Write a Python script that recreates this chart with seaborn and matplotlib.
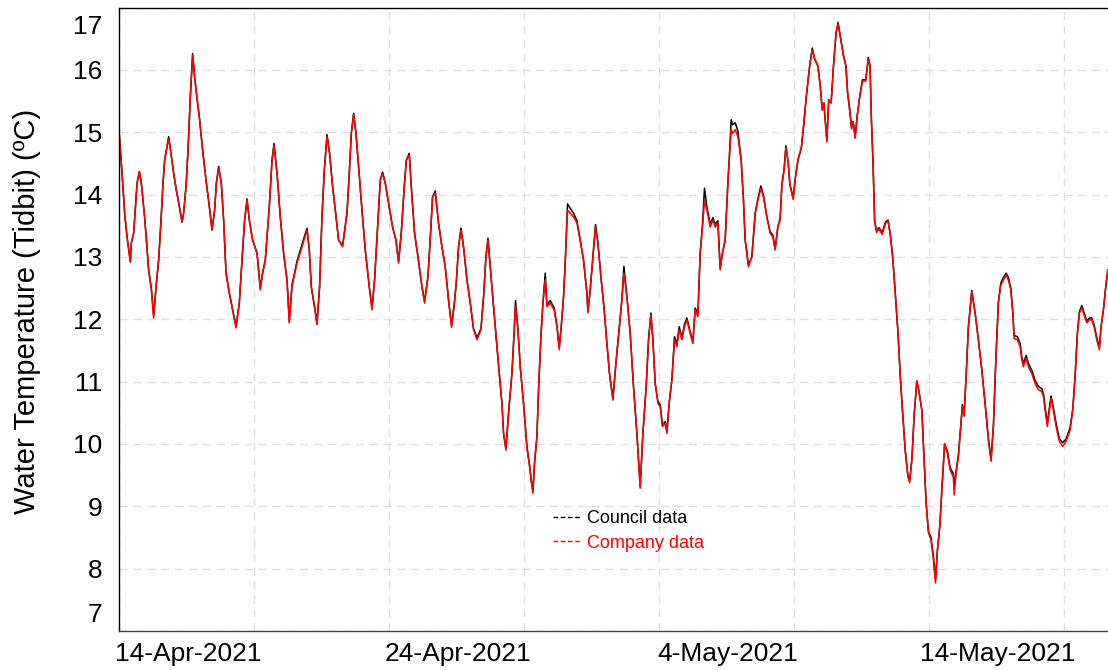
import pandas as pd
import seaborn as sns
import matplotlib.pyplot as plt
import matplotlib.dates as mdates
from matplotlib.lines import Line2D
from matplotlib.transforms import ScaledTranslation

sns.set_theme(style='white')
plt.rcParams['font.family'] = ['Liberation Sans', 'DejaVu Sans']

# days since 2021-04-11 00:00
days = [0.463, 0.563, 0.659, 0.748, 0.870, 0.907, 0.993, 1.119, 1.204, 1.278, 1.400, 1.548, 1.648, 1.733,
        1.822, 1.919, 2.007, 2.081, 2.141, 2.230, 2.289, 2.378, 2.474, 2.574, 2.685, 2.785, 2.844, 2.933,
        3.007, 3.093, 3.178, 3.252, 3.341, 3.437, 3.548, 3.674, 3.796, 3.896, 3.993, 4.056, 4.141, 4.241,
        4.326, 4.415, 4.537, 4.659, 4.785, 4.907, 5.007, 5.104, 5.193, 5.278, 5.400, 5.563, 5.685, 5.770,
        5.870, 6.019, 6.119, 6.193, 6.304, 6.426, 6.548, 6.674, 6.759, 6.859, 7.044, 7.230, 7.415, 7.500,
        7.574, 7.696, 7.785, 7.881, 7.970, 8.056, 8.156, 8.252, 8.363, 8.463, 8.585, 8.733, 8.896, 8.981,
        9.056, 9.141, 9.230, 9.326, 9.452, 9.574, 9.722, 9.822, 9.919, 10.030, 10.130, 10.215, 10.315,
        10.437, 10.585, 10.711, 10.807, 10.907, 11.019, 11.093, 11.204, 11.278, 11.400, 11.526, 11.674,
        11.770, 11.896, 11.993, 12.067, 12.167, 12.289, 12.415, 12.537, 12.659, 12.770, 12.870, 12.944,
        13.030, 13.119, 13.215, 13.341, 13.463, 13.585, 13.711, 13.859, 13.956, 14.044, 14.119, 14.204,
        14.326, 14.452, 14.548, 14.637, 14.696, 14.785, 14.881, 15.007, 15.093, 15.141, 15.230, 15.315,
        15.437, 15.563, 15.648, 15.722, 15.785, 15.844, 15.933, 15.993, 16.081, 16.156, 16.241, 16.304,
        16.426, 16.574, 16.674, 16.759, 16.833, 16.919, 16.981, 17.067, 17.167, 17.289, 17.415, 17.537,
        17.659, 17.785, 17.822, 17.907, 18.007, 18.104, 18.193, 18.304, 18.426, 18.526, 18.622, 18.748,
        18.859, 18.970, 19.081, 19.156, 19.267, 19.389, 19.511, 19.637, 19.759, 19.859, 19.981, 20.067,
        20.156, 20.230, 20.315, 20.415, 20.500, 20.585, 20.685, 20.748, 20.844, 20.933, 21.030, 21.119,
        21.204, 21.304, 21.400, 21.489, 21.611, 21.711, 21.796, 21.896, 21.981, 22.067, 22.141, 22.230,
        22.352, 22.452, 22.537, 22.637, 22.722, 22.807, 22.907, 23.007, 23.056, 23.130, 23.178, 23.278,
        23.378, 23.500, 23.585, 23.648, 23.770, 23.896, 24.019, 24.119, 24.230, 24.326, 24.452, 24.574,
        24.674, 24.759, 24.859, 24.944, 25.007, 25.093, 25.156, 25.241, 25.304, 25.426, 25.511, 25.611,
        25.730, 25.815, 25.915, 26.037, 26.133, 26.219, 26.341, 26.426, 26.500, 26.563, 26.674, 26.744,
        26.833, 26.919, 27.015, 27.089, 27.174, 27.285, 27.381, 27.441, 27.504, 27.589, 27.648, 27.722,
        27.807, 27.896, 27.993, 28.115, 28.211, 28.274, 28.322, 28.385, 28.444, 28.519, 28.604, 28.726,
        28.848, 28.944, 29.033, 29.119, 29.215, 29.311, 29.396, 29.485, 29.581, 29.678, 29.741, 29.826,
        29.911, 30.007, 30.093, 30.193, 30.278, 30.352, 30.437, 30.533, 30.619, 30.700, 30.767, 30.863,
        30.926, 31.037, 31.141, 31.241, 31.363, 31.389, 31.463, 31.548, 31.637, 31.696, 31.759, 31.833,
        31.919, 32.044, 32.167, 32.289, 32.415, 32.537, 32.659, 32.759, 32.844, 32.944, 33.030, 33.119,
        33.215, 33.315, 33.400, 33.489, 33.563, 33.611, 33.733, 33.833, 33.896, 33.956, 34.056, 34.141,
        34.267, 34.389, 34.511, 34.637, 34.696, 34.759, 34.844, 34.919, 34.981, 35.067, 35.167, 35.289,
        35.415, 35.537, 35.685, 35.785, 35.870, 35.956, 36.030, 36.119, 36.204, 36.304, 36.400, 36.489,
        36.574, 36.674, 36.770, 36.833, 36.919, 37.007, 37.081]

company = [14.95, 14.34, 13.70, 13.32, 12.92, 13.22, 13.38, 14.18, 14.37, 14.18, 13.64, 12.79, 12.47, 12.02,
           12.52, 12.95, 13.59, 14.18, 14.55, 14.77, 14.90, 14.66, 14.34, 14.07, 13.81, 13.56, 13.70, 14.13,
           14.71, 15.57, 16.24, 15.89, 15.54, 15.20, 14.71, 14.23, 13.81, 13.43, 13.75, 14.18, 14.42, 14.18,
           13.59, 12.74, 12.42, 12.15, 11.86, 12.26, 12.95, 13.59, 13.91, 13.59, 13.27, 13.06, 12.47, 12.74,
           12.95, 13.81, 14.55, 14.79, 14.34, 13.64, 13.06, 12.63, 11.94, 12.52, 12.90, 13.16, 13.43, 13.11,
           12.52, 12.18, 11.91, 12.52, 13.64, 14.39, 14.93, 14.66, 14.13, 13.75, 13.27, 13.16, 13.70, 14.34,
           14.98, 15.28, 14.98, 14.45, 13.75, 13.11, 12.52, 12.15, 12.63, 13.48, 14.23, 14.34, 14.18,
           13.86, 13.48, 13.27, 12.90, 13.38, 14.13, 14.55, 14.63, 14.13, 13.38, 13.00, 12.52,
           12.26, 12.68, 13.38, 13.96, 14.02, 13.54, 13.16, 12.84, 12.31, 11.87, 12.22, 12.58,
           13.16, 13.43, 13.16, 12.63, 12.26, 11.83, 11.67, 11.83, 12.36, 13.00, 13.27, 12.84,
           12.20, 11.56, 11.08, 10.65, 10.17, 9.90, 10.49, 11.13, 11.83, 12.22, 11.83, 11.24,
           10.65, 9.95, 9.69, 9.42, 9.21, 9.69, 10.12, 10.87, 11.72, 12.26, 12.63, 12.20,
           12.26, 12.15, 11.88, 11.51, 11.88, 12.36, 12.90, 13.75, 13.70, 13.64, 13.54, 13.27,
           12.95, 12.42, 12.10, 12.47, 13.00, 13.48, 13.22, 12.68, 12.15, 11.61, 11.13, 10.70,
           11.29, 11.80, 12.31, 12.74, 12.36, 11.77, 10.92, 10.17, 9.29, 10.17, 10.92, 11.67,
           12.07, 11.67, 10.97, 10.65, 10.60, 10.28, 10.33, 10.17, 10.70, 11.03, 11.67, 11.56,
           11.83, 11.67, 11.88, 11.99, 11.77, 11.61, 12.15, 12.04, 13.06, 13.48, 13.90, 13.75,
           13.48, 13.59, 13.48, 13.54, 12.79, 13.06, 13.27, 14.18, 14.55, 15.05, 14.98, 15.04,
           14.93, 14.55, 13.91, 13.27, 12.84, 13.00, 13.70, 13.91, 14.10, 13.96, 13.64, 13.38,
           13.32, 13.11, 13.48, 13.60, 14.15, 14.40, 14.75, 14.52, 14.16, 13.92, 14.28, 14.57,
           14.75, 15.11, 15.58, 16.06, 16.33, 16.18, 16.06, 15.76, 15.35, 15.47, 14.84, 15.52,
           15.47, 16.06, 16.59, 16.74, 16.53, 16.24, 16.06, 15.64, 15.41, 15.05, 15.17, 14.90,
           15.29, 15.58, 15.82, 15.82, 16.18, 16.06, 15.23, 14.52, 13.57, 13.39, 13.45, 13.36,
           13.54, 13.57, 13.33, 12.97, 12.38, 11.78, 11.07, 10.48, 9.88, 9.47, 9.38, 9.76,
           10.48, 11.01, 10.83, 10.54, 9.76, 9.05, 8.58, 8.46, 8.16, 7.77, 8.28, 8.70,
           9.20, 10.00, 9.85, 9.58, 9.47, 9.18, 9.53, 9.80, 10.28, 10.60, 10.44, 11.08,
           11.88, 12.44, 12.10, 11.67, 11.19, 10.65, 10.06, 9.72, 10.28, 11.45, 12.26, 12.55,
           12.63, 12.71, 12.63, 12.47, 12.10, 11.69, 11.67, 11.56, 11.35, 11.24, 11.37, 11.24,
           11.13, 10.97, 10.87, 10.84, 10.76, 10.54, 10.28, 10.54, 10.73, 10.54, 10.28, 10.04,
           9.96, 10.04, 10.22, 10.54, 11.08, 11.77, 12.10, 12.18, 12.07, 11.94, 11.99, 11.99,
           11.88, 11.67, 11.51, 11.88, 12.15, 12.52, 12.79]

council = [14.95, 14.34, 13.70, 13.32, 12.92, 13.22, 13.38, 14.18, 14.37, 14.18, 13.64, 12.79, 12.50, 12.06,
           12.52, 12.95, 13.59, 14.18, 14.55, 14.77, 14.93, 14.66, 14.34, 14.07, 13.81, 13.56, 13.70, 14.13,
           14.71, 15.57, 16.26, 15.89, 15.54, 15.20, 14.71, 14.23, 13.81, 13.43, 13.75, 14.18, 14.45, 14.18,
           13.59, 12.74, 12.42, 12.15, 11.88, 12.26, 12.95, 13.59, 13.93, 13.59, 13.27, 13.06, 12.50, 12.74,
           12.95, 13.81, 14.55, 14.82, 14.34, 13.64, 13.06, 12.63, 11.97, 12.55, 12.93, 13.20, 13.46, 13.11,
           12.52, 12.20, 11.94, 12.52, 13.64, 14.39, 14.96, 14.66, 14.13, 13.75, 13.27, 13.18, 13.70, 14.34,
           14.98, 15.30, 14.98, 14.45, 13.75, 13.11, 12.52, 12.18, 12.63, 13.48, 14.23, 14.36, 14.18,
           13.86, 13.48, 13.27, 12.93, 13.38, 14.13, 14.55, 14.66, 14.13, 13.38, 13.00, 12.52,
           12.29, 12.68, 13.38, 13.96, 14.06, 13.54, 13.16, 12.84, 12.31, 11.90, 12.25, 12.58,
           13.16, 13.46, 13.16, 12.63, 12.26, 11.85, 11.70, 11.85, 12.36, 13.00, 13.30, 12.84,
           12.20, 11.56, 11.08, 10.65, 10.17, 9.93, 10.49, 11.13, 11.83, 12.30, 11.83, 11.24,
           10.65, 9.95, 9.69, 9.42, 9.24, 9.69, 10.12, 10.87, 11.72, 12.26, 12.74, 12.23,
           12.30, 12.18, 11.90, 11.55, 11.88, 12.36, 12.90, 13.85, 13.78, 13.70, 13.58, 13.27,
           12.95, 12.42, 12.13, 12.47, 13.00, 13.52, 13.22, 12.68, 12.15, 11.61, 11.13, 10.73,
           11.29, 11.80, 12.31, 12.85, 12.36, 11.77, 10.92, 10.17, 9.32, 10.17, 10.92, 11.67,
           12.10, 11.67, 10.97, 10.68, 10.63, 10.30, 10.36, 10.20, 10.70, 11.03, 11.72, 11.60,
           11.88, 11.70, 11.92, 12.02, 11.80, 11.64, 12.18, 12.08, 13.06, 13.52, 14.10, 13.80,
           13.52, 13.63, 13.52, 13.58, 12.82, 13.06, 13.27, 14.18, 14.55, 15.20, 15.12, 15.15,
           15.02, 14.55, 13.91, 13.27, 12.87, 13.00, 13.70, 13.93, 14.14, 13.98, 13.64, 13.40,
           13.35, 13.13, 13.48, 13.62, 14.15, 14.42, 14.78, 14.52, 14.16, 13.95, 14.28, 14.57,
           14.75, 15.11, 15.58, 16.06, 16.35, 16.18, 16.06, 15.76, 15.38, 15.47, 14.88, 15.52,
           15.47, 16.06, 16.59, 16.76, 16.53, 16.24, 16.06, 15.64, 15.43, 15.08, 15.17, 14.93,
           15.29, 15.58, 15.84, 15.84, 16.20, 16.06, 15.23, 14.52, 13.57, 13.42, 13.47, 13.39,
           13.56, 13.59, 13.33, 12.97, 12.38, 11.78, 11.07, 10.48, 9.88, 9.49, 9.41, 9.76,
           10.48, 11.01, 10.83, 10.54, 9.76, 9.05, 8.60, 8.50, 8.20, 7.82, 8.28, 8.70,
           9.20, 10.00, 9.88, 9.62, 9.52, 9.30, 9.56, 9.82, 10.30, 10.63, 10.47, 11.08,
           11.88, 12.46, 12.10, 11.67, 11.19, 10.65, 10.08, 9.76, 10.28, 11.45, 12.28, 12.58,
           12.67, 12.74, 12.67, 12.50, 12.12, 11.74, 11.72, 11.61, 11.40, 11.29, 11.42, 11.29,
           11.18, 11.02, 10.92, 10.89, 10.81, 10.59, 10.33, 10.58, 10.77, 10.58, 10.33, 10.08,
           10.02, 10.08, 10.26, 10.56, 11.08, 11.77, 12.12, 12.22, 12.10, 11.97, 12.02, 12.02,
           11.91, 11.70, 11.55, 11.88, 12.15, 12.52, 12.79]

y_ticks = list(range(7, 18))
date_ticks = ['2021-04-14', '2021-04-24', '2021-05-04', '2021-05-14']

start = pd.Timestamp('2021-04-11')
df = pd.DataFrame({'time': start + pd.to_timedelta(days, unit='D'),
                   'council': council, 'company': company})

fig = plt.figure(figsize=(11.08, 6.70), dpi=100)
ax = fig.add_axes([119 / 1108, 39 / 670, 989 / 1108, 623.5 / 670])

sns.lineplot(data=df, x='time', y='council', color='black', lw=1.1, ax=ax)
sns.lineplot(data=df, x='time', y='company', color='red', lw=1.1, ax=ax)

x0 = start + pd.Timedelta(days=0.45)
x1 = start + pd.Timedelta(days=37.09)
ax.set_xlim(x0, x1)
ax.set_ylim(7, 17)

ax.set_xticks(pd.to_datetime(date_ticks))
ax.xaxis.set_major_formatter(mdates.DateFormatter('%-d-%b-%Y'))
ax.set_xticks(pd.date_range(x0, x1, freq='5D'), minor=True)
ax.set_yticks(y_ticks)

ax.grid(False)
ax.grid(True, axis='y', which='major', color='#e0e0e0', ls=(0, (6, 4)), lw=1)
ax.grid(True, axis='x', which='minor', color='#e0e0e0', ls=(0, (6, 4)), lw=1)
ax.set_axisbelow(True)

ax.tick_params(axis='both', which='both', length=0, labelsize=19, colors='black')
ax.tick_params(axis='y', pad=12)
ax.tick_params(axis='x', pad=8)

# end labels of the y axis sit inside the axis range, as in the original
ylabs = ax.get_yticklabels()
ylabs[0].set_transform(ylabs[0].get_transform() + ScaledTranslation(0, 18 / 100, fig.dpi_scale_trans))
ylabs[-1].set_transform(ylabs[-1].get_transform() + ScaledTranslation(0, -17 / 100, fig.dpi_scale_trans))

ax.set_xlabel('')
ax.set_ylabel('Water Temperature (Tidbit) (ºC)', fontsize=21, color='black')
ax.yaxis.set_label_coords(-(119 - 41) / 989, 0.512)

for side in ['left', 'top', 'bottom']:
    ax.spines[side].set_visible(True)
    ax.spines[side].set_color('black')
    ax.spines[side].set_linewidth(1)
ax.spines['bottom'].set_color('#444444')
ax.spines['right'].set_visible(False)

handles = [Line2D([], [], color='black', lw=1.0, ls=(0, (3.3, 1.9))),
           Line2D([], [], color='red', lw=1.0, ls=(0, (3.3, 1.9)))]
ax.legend(handles, ['Council data', 'Company data'], loc='upper left', frameon=False,
          bbox_to_anchor=(553 / 1108, 1 - 510 / 670), bbox_transform=fig.transFigure,
          borderpad=0, borderaxespad=0, handlelength=1.55, handletextpad=0.35,
          labelspacing=0.42, fontsize=13, labelcolor='linecolor')

fig.savefig('out.png', dpi=100)
